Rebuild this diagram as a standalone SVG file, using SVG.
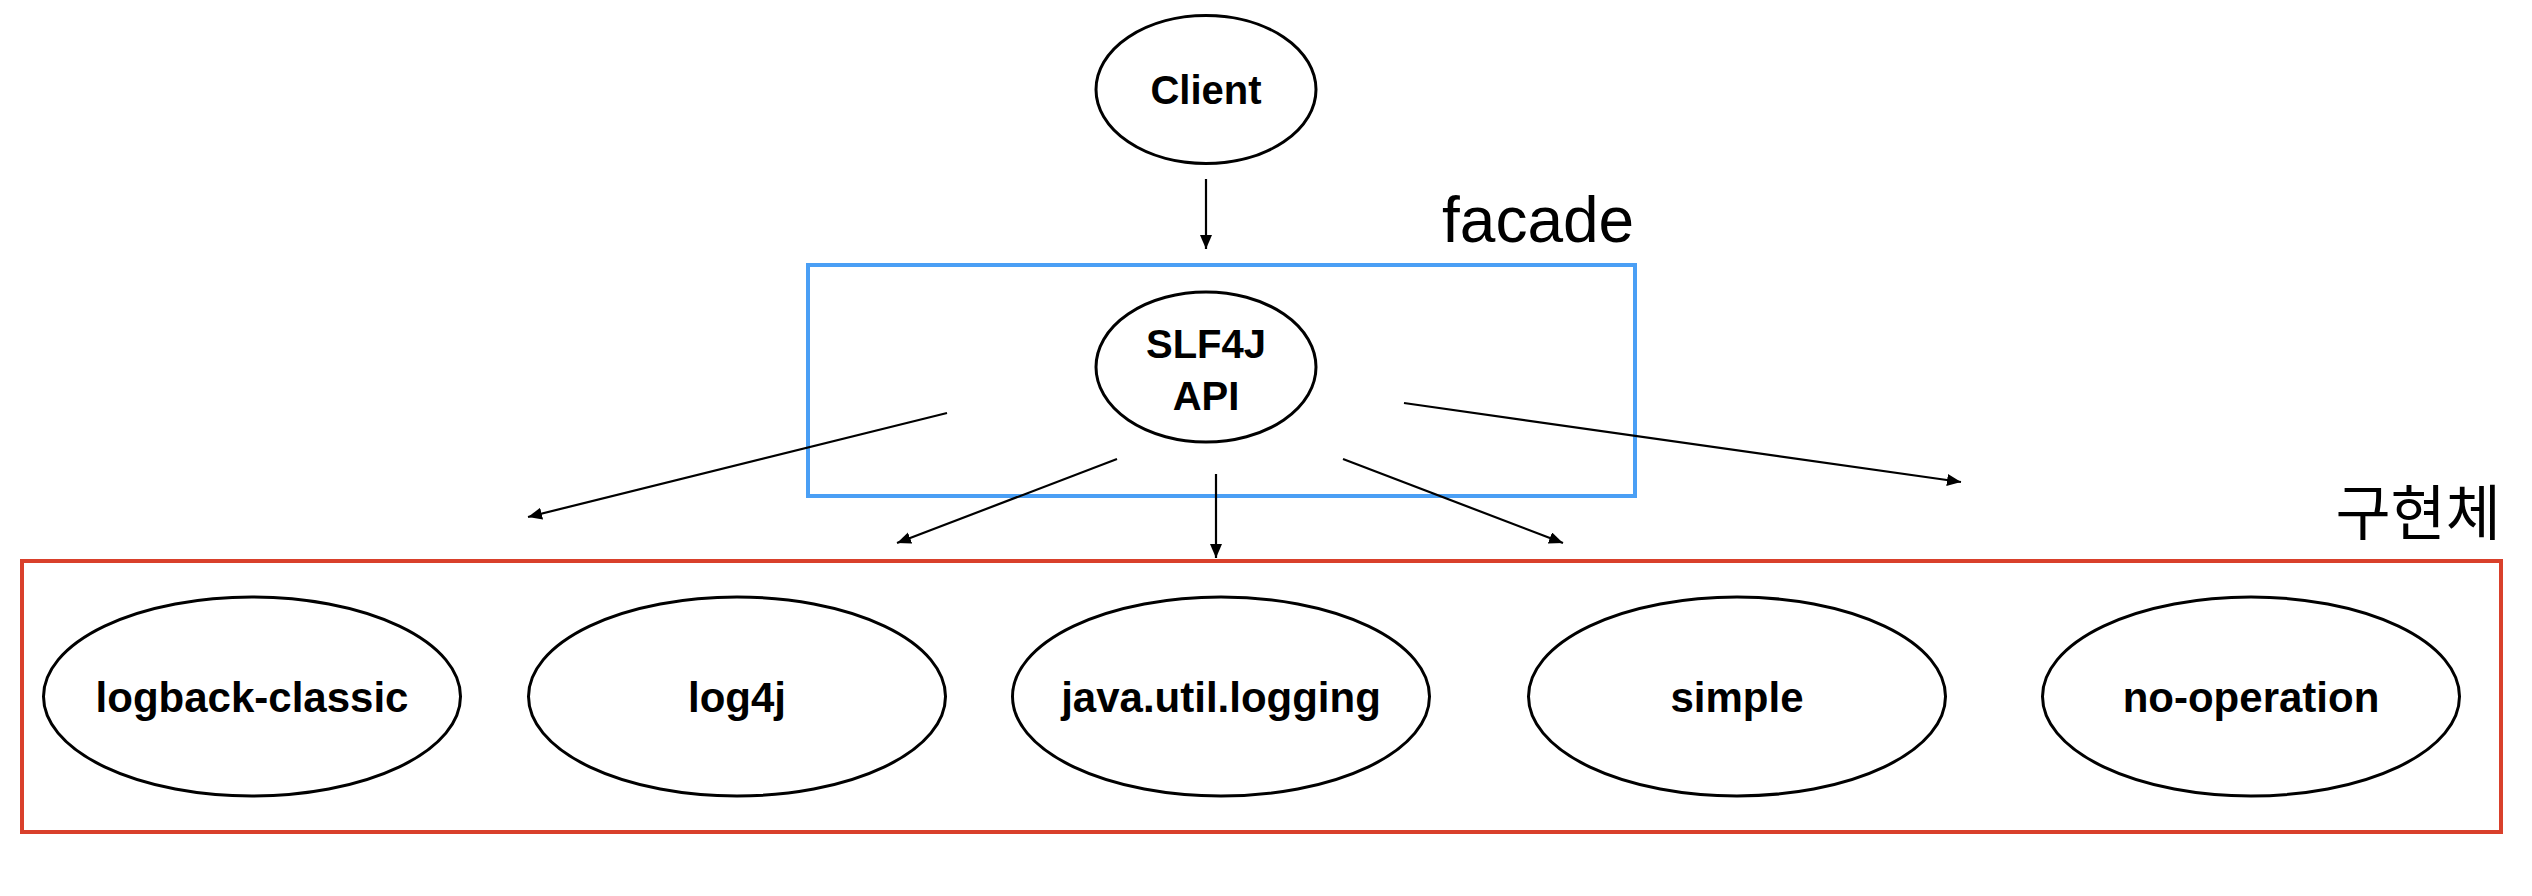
<svg xmlns="http://www.w3.org/2000/svg" width="2532" height="896" viewBox="0 0 2532 896">
<style>
.node ellipse{fill:#fff;stroke:#000;stroke-width:3}
.lbl{font-family:"Liberation Sans",Arial,sans-serif;font-weight:bold;font-size:40px;fill:#000;text-anchor:middle}
.lbl2{font-size:42px}
.big{font-family:"Liberation Sans",Arial,"Noto Sans CJK KR",sans-serif;font-size:64px;fill:#000}
.conn line{stroke:#000;stroke-width:2.2;fill:none;marker-end:url(#ah)}
</style>
<defs>
<marker id="ah" markerUnits="userSpaceOnUse" markerWidth="16" markerHeight="14" refX="14" refY="6" orient="auto">
<path d="M0,0 L14,6 L0,12 Z" fill="#000"/>
</marker>
</defs>
<rect width="2532" height="896" fill="#fff"/>
<g id="group-facade">
<rect x="808" y="265" width="827" height="231" fill="none" stroke="#4A9FF5" stroke-width="4"/>
<text class="big" x="1442" y="242">facade</text>
</g>
<g id="group-impl">
<rect x="22" y="561" width="2479" height="271" fill="none" stroke="#D9402B" stroke-width="4"/>
<text class="big" x="2501" y="535" text-anchor="end" style="font-family:'Noto Sans CJK KR',sans-serif;font-size:60px">구현체</text>
</g>
<g id="node-client" class="node">
<ellipse cx="1206" cy="89.5" rx="110" ry="74"/>
<text class="lbl" x="1206" y="104">Client</text>
</g>
<g id="node-slf4j" class="node">
<ellipse cx="1206" cy="367" rx="110" ry="75"/>
<text class="lbl" x="1206" y="358">SLF4J</text>
<text class="lbl" x="1206" y="410">API</text>
</g>
<g id="node-logback" class="node">
<ellipse cx="252" cy="696.5" rx="208.5" ry="99.5"/>
<text class="lbl lbl2" x="252" y="712">logback-classic</text>
</g>
<g id="node-log4j" class="node">
<ellipse cx="737" cy="696.5" rx="208.5" ry="99.5"/>
<text class="lbl lbl2" x="737" y="712">log4j</text>
</g>
<g id="node-jul" class="node">
<ellipse cx="1221" cy="696.5" rx="208.5" ry="99.5"/>
<text class="lbl lbl2" x="1221" y="712">java.util.logging</text>
</g>
<g id="node-simple" class="node">
<ellipse cx="1737" cy="696.5" rx="208.5" ry="99.5"/>
<text class="lbl lbl2" x="1737" y="712">simple</text>
</g>
<g id="node-nop" class="node">
<ellipse cx="2251" cy="696.5" rx="208.5" ry="99.5"/>
<text class="lbl lbl2" x="2251" y="712">no-operation</text>
</g>
<g id="connectors" class="conn">
<line x1="1206" y1="179" x2="1206" y2="249"/>
<line x1="947" y1="413" x2="528" y2="517"/>
<line x1="1117" y1="459" x2="897" y2="543"/>
<line x1="1216" y1="474" x2="1216" y2="558"/>
<line x1="1343" y1="459" x2="1563" y2="543"/>
<line x1="1404" y1="403" x2="1961" y2="482"/>
</g>
</svg>
